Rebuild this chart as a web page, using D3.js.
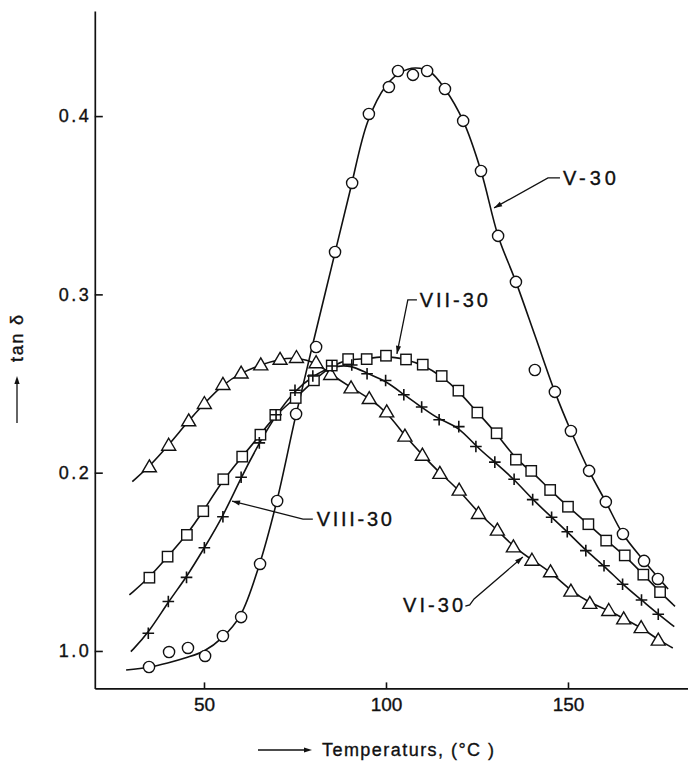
<!DOCTYPE html>
<html><head><meta charset="utf-8">
<script src="https://cdn.jsdelivr.net/npm/d3@7/dist/d3.min.js"></script>
<style>
html,body{margin:0;padding:0;background:#fff;}
svg{display:block;}
text{font-family:"Liberation Sans",Arial,sans-serif;fill:#111;stroke:#111;stroke-width:0.35px;}
</style></head>
<body>
<svg id="chart" width="688" height="764"></svg>
<script>
// ---------- data ----------
const xTicks = [50, 100, 150];
const yTicks = [0.1, 0.2, 0.3, 0.4];
const yTickLabels = ["1.0", "0.2", "0.3", "0.4"];

// V-30 (circles)
const v30T = [34.9,40.4,45.6,50.3,55.2,60.2,65.4,70.1,75.3,80.8,86.0,90.7,95.3,100.8,103.3,107.4,111.3,116.2,121.2,126.1,130.8,135.7,140.9,146.4,150.8,155.8,160.4,165.1,170.9,174.7];
const v30V = [0.0910,0.0994,0.1017,0.0972,0.1084,0.1190,0.1488,0.1841,0.2329,0.2705,0.3238,0.3625,0.4012,0.4163,0.4253,0.4231,0.4253,0.4152,0.3973,0.3692,0.3328,0.3070,0.2576,0.2453,0.2234,0.2010,0.1836,0.1656,0.1505,0.1404];
const v30CurveT = [28.6,35,40,45,50,55,60,65,70,75,80,85,90,95,100,104,108,112,116.2,121.2,126.1,130.8,135.7,141,146.4,150.8,155.8,160.4,165.1,170.9,177.5];
const v30CurveV = [0.0893,0.0910,0.0933,0.0962,0.1000,0.1075,0.1200,0.1470,0.1840,0.2300,0.2730,0.3150,0.3570,0.3970,0.4170,0.4245,0.4270,0.4250,0.4152,0.3973,0.3692,0.3328,0.3070,0.2765,0.2453,0.2234,0.2010,0.1836,0.1656,0.1505,0.1348];

// VI-30 (triangles)
const vi30T = [35.0,40.3,45.8,50.1,55.2,60.2,65.6,70.9,75.4,80.8,84.8,90.4,95.4,100.2,105.2,110.0,114.8,120.1,125.4,130.6,135.0,140.1,145.2,150.8,156.0,161.2,165.3,170.1,174.8];
const vi30V = [0.2034,0.2155,0.2292,0.2389,0.2496,0.2560,0.2606,0.2637,0.2647,0.2618,0.2552,0.2477,0.2417,0.2342,0.2206,0.2099,0.1997,0.1903,0.1772,0.1679,0.1585,0.1510,0.1445,0.1337,0.1268,0.1228,0.1181,0.1132,0.1062];
const vi30Start = [30.3, 0.195];
const vi30End = [178.8, 0.1017];

// VII-30 (squares)
const vii30T = [35.0,40.0,45.3,49.8,55.3,60.5,65.5,69.6,75.2,80.2,85.1,89.6,94.7,100.0,105.5,110.1,115.3,119.9,125.1,130.4,135.7,139.9,145.1,150.0,155.6,160.5,165.6,170.7,175.3];
const vii30V = [0.1411,0.1529,0.1651,0.1784,0.1963,0.2090,0.2213,0.2324,0.2419,0.2518,0.2601,0.2637,0.2637,0.2656,0.2635,0.2606,0.2542,0.2460,0.2337,0.2221,0.2073,0.2010,0.1903,0.1809,0.1711,0.1619,0.1536,0.1428,0.1330];
const vii30Start = [29.5, 0.1314];
const vii30End = [179.4, 0.1250];

// VIII-30 (plus)
const viii30T = [34.7,40.2,45.2,50.1,55.2,60.2,65.2,69.8,75.0,79.9,85.2,90.6,94.8,99.9,104.9,109.8,114.6,120.0,124.7,129.9,135.2,140.3,145.5,149.8,154.9,159.9,165.0,170.2,174.8];
const viii30V = [0.1099,0.1277,0.1413,0.1579,0.1753,0.1974,0.2167,0.2325,0.2462,0.2542,0.2598,0.2604,0.2555,0.2517,0.2437,0.2368,0.2297,0.2258,0.2147,0.2059,0.1963,0.1849,0.1750,0.1669,0.1563,0.1478,0.1374,0.1286,0.1206];
const viii30Start = [29.9, 0.0996];
const viii30End = [179.2, 0.1136];

// annotation labels (data coordinates)
const labelNames = ["V-30", "VII-30", "VIII-30", "VI-30"];
const labelAt = [[148.6, 0.3653], [109.3, 0.2969], [81.0, 0.1740], [104.7, 0.1258]];
const leaderPaths = [
  [[129.7, 0.3485], [144.5, 0.3653], [147.8, 0.3653]],
  [[103.0, 0.2666], [106.0, 0.2969], [108.5, 0.2969]],
  [[57.7, 0.1841], [77.2, 0.1740], [79.9, 0.1740]],
  [[137.6, 0.1527], [124.2, 0.1292], [123.0, 0.1258], [121.8, 0.1252]]
];
const xTitle = "Temperaturs, (°C )";
const yTitle = "tan δ";

// ---------- drawing ----------
const svg = d3.select("#chart");
const x = d3.scaleLinear().domain([20, 183]).range([94.8, 688.1]);
const y = d3.scaleLinear().domain([0.079, 0.459]).range([688.4, 10.9]);

const line = d3.line().x(d => x(d[0])).y(d => y(d[1])).curve(d3.curveBasis);
const lineCR = d3.line().x(d => x(d[0])).y(d => y(d[1])).curve(d3.curveCatmullRom.alpha(0.5));

function zip(a, b) { return a.map((t, i) => [t, b[i]]); }

const curves = [
  {pts: zip(v30CurveT, v30CurveV), gen: lineCR},
  {pts: [vi30Start, ...zip(vi30T, vi30V), vi30End], gen: line},
  {pts: [vii30Start, ...zip(vii30T, vii30V), vii30End], gen: line},
  {pts: [viii30Start, ...zip(viii30T, viii30V), viii30End], gen: line}
];
svg.append("g").selectAll("path").data(curves).join("path")
  .attr("d", d => d.gen(d.pts))
  .attr("fill", "none").attr("stroke", "#111").attr("stroke-width", 1.6);

// axes
const gx = svg.append("g").attr("transform", `translate(0,${y.range()[0]})`)
  .call(d3.axisBottom(x).tickValues(xTicks).tickFormat(d3.format("d"))
    .tickSizeInner(-6).tickSizeOuter(0).tickPadding(9));
const gy = svg.append("g").attr("transform", `translate(${x.range()[0]},0)`)
  .call(d3.axisLeft(y).tickValues(yTicks).tickFormat((d, i) => yTickLabels[i])
    .tickSizeInner(-8).tickSizeOuter(0).tickPadding(6));
[gx, gy].forEach(g => {
  g.select(".domain").attr("stroke", "#111").attr("stroke-width", 1.7);
  g.selectAll(".tick line").attr("stroke", "#111").attr("stroke-width", 1.6);
  g.selectAll(".tick text").attr("fill", "#111")
    .style("font-family", '"Liberation Sans",Arial,sans-serif');
});
gx.selectAll(".tick text").style("font-size", "19px");
gy.selectAll(".tick text").style("font-size", "18px")
  .attr("textLength", 30).attr("lengthAdjust", "spacing");

// markers
const mk = svg.append("g").attr("fill", "#fff").attr("stroke", "#111").attr("stroke-width", 1.4);
mk.selectAll("circle").data(zip(v30T, v30V)).join("circle")
  .attr("cx", d => x(d[0])).attr("cy", d => y(d[1])).attr("r", 5.6);
mk.selectAll("path.tri").data(zip(vi30T, vi30V)).join("path").attr("class", "tri")
  .attr("d", d => { const cx = x(d[0]), cy = y(d[1]);
    return `M${cx},${cy-6.8}L${cx+7},${cy+5.2}L${cx-7},${cy+5.2}Z`; });
mk.selectAll("rect").data(zip(vii30T, vii30V)).join("rect")
  .attr("x", d => x(d[0]) - 5.2).attr("y", d => y(d[1]) - 5.2)
  .attr("width", 10.4).attr("height", 10.4);
mk.selectAll("path.plus").data(zip(viii30T, viii30V)).join("path").attr("class", "plus")
  .attr("fill", "none").attr("stroke-width", 1.6)
  .attr("d", d => { const cx = x(d[0]), cy = y(d[1]);
    return `M${cx-5.8},${cy}H${cx+5.8}M${cx},${cy-5.8}V${cy+5.8}`; });

// arrowhead helper
function arrowHead(g, tip, from, len, hw) {
  const a = Math.atan2(tip[1] - from[1], tip[0] - from[0]);
  const bx = tip[0] - len * Math.cos(a), by = tip[1] - len * Math.sin(a);
  const px = -Math.sin(a) * hw, py = Math.cos(a) * hw;
  g.append("path").attr("d", `M${tip[0]},${tip[1]}L${bx+px},${by+py}L${bx-px},${by-py}Z`)
    .attr("fill", "#111").attr("stroke", "none");
}

// annotations
const ann = svg.append("g");
const labelWidths = [53, 68, 75, 60];
labelNames.forEach((name, i) => {
  const pts = leaderPaths[i].map(p => [x(p[0]), y(p[1])]);
  ann.append("path").attr("d", d3.line()(pts)).attr("fill", "none")
    .attr("stroke", "#111").attr("stroke-width", 1.3);
  arrowHead(ann, pts[0], pts[1], 8, 2.6);
  ann.append("text").attr("x", x(labelAt[i][0])).attr("y", y(labelAt[i][1]))
    .attr("dy", "0.36em").style("font-size", "20px")
    .attr("textLength", labelWidths[i]).attr("lengthAdjust", "spacing")
    .text(name);
});

// x title with arrow
const xt = svg.append("g");
xt.append("line").attr("x1", 258).attr("x2", 308).attr("y1", 750).attr("y2", 750)
  .attr("stroke", "#111").attr("stroke-width", 1.3);
arrowHead(xt, [312, 750], [258, 750], 8, 2.6);
xt.append("text").attr("x", 322).attr("y", 750).attr("dy", "0.36em")
  .style("font-size", "18px").attr("textLength", 172).attr("lengthAdjust", "spacing")
  .text(xTitle);

// y title with arrow
const yt = svg.append("g");
yt.append("line").attr("x1", 17).attr("x2", 17).attr("y1", 423).attr("y2", 382)
  .attr("stroke", "#111").attr("stroke-width", 1.3);
arrowHead(yt, [17, 376], [17, 423], 8, 2.6);
yt.append("text").attr("transform", "translate(17,362) rotate(-90)")
  .attr("dy", "0.36em").style("font-size", "18px")
  .attr("textLength", 47).attr("lengthAdjust", "spacing")
  .text(yTitle);
</script>
</body></html>
